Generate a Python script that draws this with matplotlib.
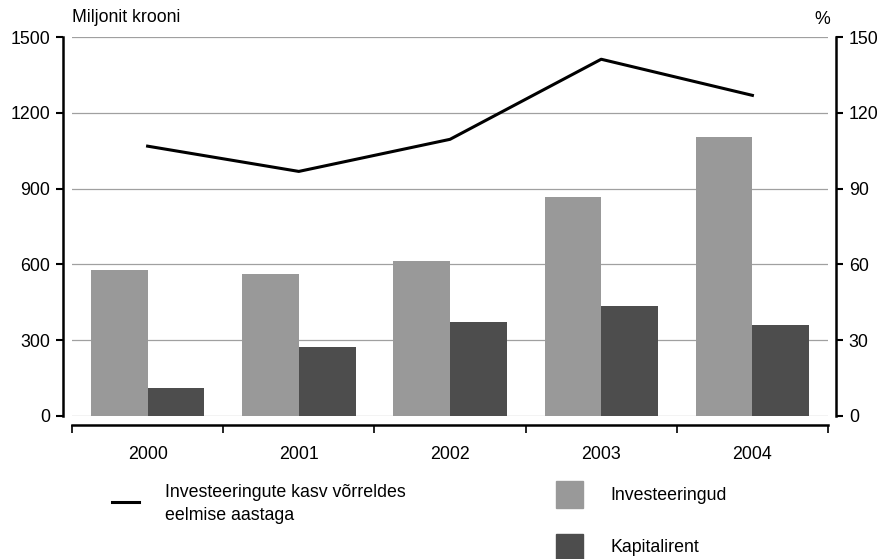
import numpy as np
import matplotlib
matplotlib.use("Agg")
import matplotlib.pyplot as plt
from matplotlib.lines import Line2D
from matplotlib.patches import Rectangle

years = ["2000", "2001", "2002", "2003", "2004"]
investeeringud = [577, 561, 613, 867, 1104]
kapitalirent = [111, 272, 371, 435, 359]
kasv = [106.8, 96.8, 109.5, 141.2, 126.9]

light = "#999999"
dark = "#4d4d4d"
grid_c = "#a0a0a0"

plt.rcParams["font.family"] = ["Liberation Sans", "DejaVu Sans"]
plt.rcParams["font.size"] = 12.8

W, H = 884, 559
fig = plt.figure(figsize=(W / 100, H / 100), dpi=100)
ax = fig.add_axes([72 / W, 1 - 416 / H, 756 / W, 379 / H])

x = np.arange(len(years))
bw = 0.375
ax.bar(x - bw / 2, investeeringud, width=bw, color=light, zorder=2)
ax.bar(x + bw / 2, kapitalirent, width=bw, color=dark, zorder=2)

ax.set_xlim(-0.5, len(years) - 0.5)
ax.set_ylim(0, 1500)
ax.set_yticks(np.arange(0, 1501, 300))
for v in np.arange(0, 1501, 300):
    ax.axhline(v, color=grid_c, lw=0.9, zorder=1)

ax.set_xticks(np.arange(-0.5, len(years), 1.0))
ax.set_xticklabels([])
ax.set_xticks(x, minor=True)
ax.set_xticklabels(years, minor=True)
ax.tick_params(axis="x", which="major", direction="out", length=6, width=1.2)
ax.tick_params(axis="x", which="minor", length=0, pad=15)
ax.tick_params(axis="y", direction="out", length=5, width=1.5, pad=4)

for s in ["top", "right"]:
    ax.spines[s].set_visible(False)
ax.spines["left"].set_position(("outward", 6.5))
ax.spines["left"].set_linewidth(1.8)
ax.spines["bottom"].set_position(("outward", 6.5))
ax.spines["bottom"].set_linewidth(1.8)

ax2 = ax.twinx()
ax2.plot(x, kasv, color="black", lw=2.2, zorder=3)
ax2.set_ylim(0, 150)
ax2.set_yticks(np.arange(0, 151, 30))
ax2.tick_params(axis="y", direction="out", length=5, width=1.5, pad=4)
for s in ["top", "left", "bottom"]:
    ax2.spines[s].set_visible(False)
ax2.spines["right"].set_position(("outward", 6))
ax2.spines["right"].set_linewidth(1.8)

fig.text(72 / W, 1 - 18 / H, "Miljonit krooni", ha="left", va="center")
fig.text(822 / W, 1 - 20 / H, "%", ha="center", va="center")

# legend
fig.add_artist(Line2D([112 / W, 139 / W], [1 - 502 / H] * 2, color="black", lw=2.2))
fig.text(165 / W, 1 - 504 / H, "Investeeringute kasv võrreldes\neelmise aastaga",
         ha="left", va="center", linespacing=1.4)
fig.add_artist(Rectangle((556 / W, 1 - 508 / H), 27 / W, 27 / H, color=light, transform=fig.transFigure))
fig.text(610 / W, 1 - 495 / H, "Investeeringud", ha="left", va="center")
fig.add_artist(Rectangle((556 / W, 1 - 560 / H), 27 / W, 26 / H, color=dark, transform=fig.transFigure))
fig.text(610 / W, 1 - 547 / H, "Kapitalirent", ha="left", va="center")

fig.savefig("out.png", dpi=100)
